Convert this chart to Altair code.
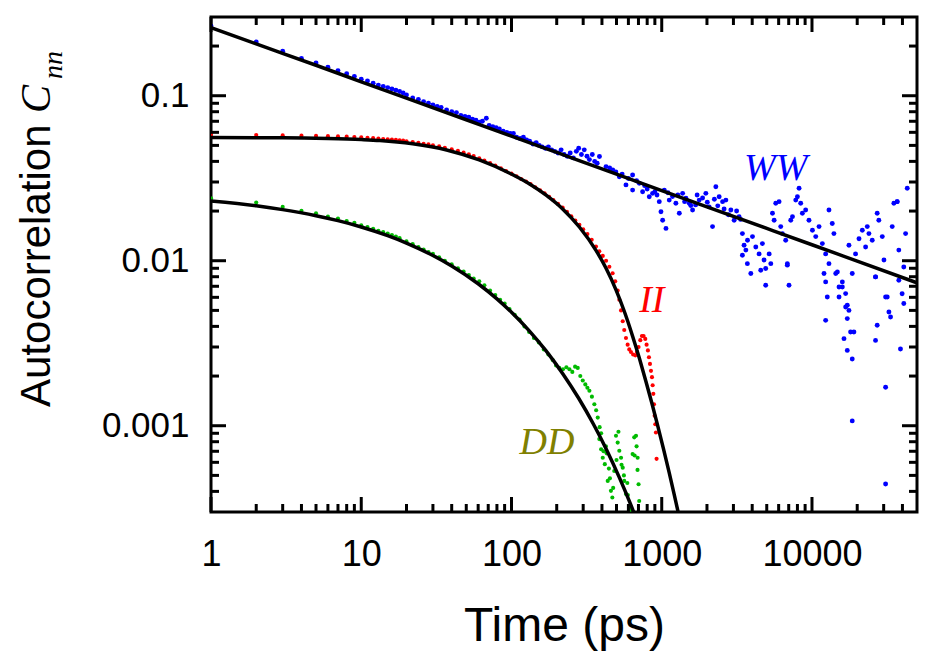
import altair as alt
import pandas as pd

SANS = "Liberation Sans"
SERIF = "Liberation Serif"

# ---------------- data ----------------
WW_EARLY = [(1, 0.265), (2, 0.212), (3, 0.186), (4, 0.168), (5, 0.158), (6, 0.149), (7, 0.142),
            (8, 0.136), (9, 0.131), (10, 0.126), (11, 0.123), (12, 0.119), (13, 0.116), (14, 0.114),
            (15, 0.112), (16, 0.110), (17, 0.108), (18, 0.106), (19, 0.104), (20, 0.101)]
WW_MID = [(22, 0.097), (24, 0.095), (26, 0.092), (28, 0.090), (30, 0.088), (32, 0.086), (34, 0.085),
          (37, 0.082), (40, 0.080), (43, 0.079), (46, 0.076), (49, 0.075), (52, 0.074), (55, 0.072),
          (58, 0.071), (61, 0.069), (64, 0.070), (68, 0.073), (71, 0.066), (75, 0.065), (79, 0.064),
          (83, 0.063), (88, 0.061), (93, 0.060), (98, 0.059), (103, 0.059), (108, 0.056), (114, 0.055),
          (120, 0.056), (126, 0.054), (132, 0.053), (139, 0.051), (146, 0.052), (153, 0.050), (160, 0.049),
          (168, 0.048), (176, 0.049), (185, 0.047), (194, 0.046), (204, 0.045), (214, 0.047), (224, 0.044),
          (235, 0.043), (246, 0.045), (258, 0.042), (270, 0.046), (280, 0.048), (292, 0.044), (305, 0.047),
          (318, 0.043), (330, 0.041), (345, 0.044), (358, 0.040), (372, 0.039)]
WW_NEARLINE = [(450, 0.0365), (495, 0.0345), (545, 0.0335), (600, 0.0315), (680, 0.0305), (770, 0.0285),
               (800, 0.0272), (900, 0.0262), (930, 0.0250), (1040, 0.0268), (1100, 0.0258), (1180, 0.0245),
               (1280, 0.0250), (1420, 0.0228), (1560, 0.0216), (1680, 0.0218), (1720, 0.0250), (1870, 0.0240),
               (2010, 0.0226), (2240, 0.0236), (2360, 0.0215), (2600, 0.0206), (2780, 0.0190), (3150, 0.0200),
               (3350, 0.0178)]
WW_TAIL = [(385, 0.0428), (426, 0.0372), (472, 0.0355), (522, 0.0323), (578, 0.0288), (640, 0.0331),
           (640, 0.0268), (709, 0.0295), (746, 0.0262), (826, 0.0244), (869, 0.0256), (963, 0.0228),
           (988, 0.0198), (1014, 0.0176), (1067, 0.0157), (1122, 0.0233), (1242, 0.0223), (1309, 0.0194),
           (1377, 0.0256), (1449, 0.0239), (1525, 0.0223), (1604, 0.0203), (1776, 0.0233), (1966, 0.0256),
           (2069, 0.0212), (2178, 0.0161), (2291, 0.0281), (2411, 0.0244), (2541, 0.0228), (2673, 0.0233),
           (2884, 0.0203), (3034, 0.0176), (3273, 0.0185), (3443, 0.0146), (3532, 0.0124), (3631, 0.0116),
           (3724, 0.0133), (3917, 0.00836), (4018, 0.0140), (4227, 0.0121), (4446, 0.0110), (4677, 0.0127),
           (4797, 0.0101), (4920, 0.0071), (5188, 0.0110), (5321, 0.0096), (5458, 0.0194), (5598, 0.0176),
           (5741, 0.0223), (6039, 0.0228), (6194, 0.0161), (6353, 0.0146), (6683, 0.0133), (6854, 0.0096),
           (7031, 0.0071), (7221, 0.0176), (7413, 0.0185), (7798, 0.0233), (7998, 0.0244), (8204, 0.0275),
           (8414, 0.0223), (8630, 0.0194), (9078, 0.0203), (9550, 0.0176), (10069, 0.0153), (10593, 0.0140),
           (11143, 0.0161), (11722, 0.0127), (12331, 0.0110), (12972, 0.0096), (12972, 0.0203), (13646, 0.0168),
           (13996, 0.0146), (14388, 0.00836), (15136, 0.00603), (15922, 0.00693), (16749, 0.00524),
           (17620, 0.0124), (18535, 0.00836), (19498, 0.0110), (20559, 0.0136), (21627, 0.0153),
           (22751, 0.0121), (23335, 0.0161), (23933, 0.0146), (25177, 0.0133), (26485, 0.00798),
           (27164, 0.0194), (27861, 0.0176), (29376, 0.0140), (30130, 0.0101), (30903, 0.00603),
           (34198, 0.0161), (35075, 0.0223), (36897, 0.0228), (37844, 0.0116), (39811, 0.00631),
           (41976, 0.0146), (43053, 0.0275)]
WW_LOW = [(3443, 0.0108), (3715, 0.0096), (4560, 0.00875), (4920, 0.00897), (6854, 0.0094),
          (12023, 0.00836), (12331, 0.00744), (12647, 0.00603), (12331, 0.00435), (14757, 0.00855),
          (15136, 0.00693), (15922, 0.00744), (16749, 0.00632), (17179, 0.00537), (17179, 0.00446),
          (17620, 0.0050), (18072, 0.0037), (19011, 0.0037), (16331, 0.00337), (17179, 0.00286),
          (18535, 0.00254), (18535, 0.00107), (26485, 0.00798), (27164, 0.00406), (26485, 0.00329),
          (31696, 0.00603), (32509, 0.00489), (33343, 0.00456), (30903, 0.00171), (30903, 0.000443),
          (38815, 0.00292), (40832, 0.0055), (37844, 0.00762), (40832, 0.00916), (36897, 0.0228)]

II_DATA = [(1, 0.0580), (2, 0.0578), (3, 0.0575), (4, 0.0573), (5, 0.0571), (6, 0.0569), (7, 0.0567),
           (8, 0.0565), (9, 0.0562), (10, 0.0559), (11, 0.0556), (12, 0.0553), (13, 0.0550), (14, 0.0547),
           (15, 0.0545), (16, 0.0542), (17, 0.0540), (18, 0.0537), (19, 0.0534), (20, 0.0530), (22, 0.0524),
           (24, 0.0518), (26, 0.0512), (28, 0.0507), (30, 0.0501), (33, 0.0493), (36, 0.0484), (40, 0.0474),
           (44, 0.0463), (48, 0.0452), (52, 0.0441), (56, 0.0431), (61, 0.0418), (66, 0.0405), (72, 0.0391),
           (78, 0.0378), (85, 0.0363), (92, 0.0350), (100, 0.0337), (108, 0.0325), (116, 0.0313),
           (125, 0.0302), (134, 0.0291), (144, 0.0279), (155, 0.0267), (166, 0.0256), (178, 0.0244),
           (190, 0.0233), (204, 0.0221), (219, 0.0210), (234, 0.0198), (250, 0.0186), (266, 0.0175),
           (283, 0.0165), (300, 0.0155), (320, 0.0145), (342, 0.0134), (365, 0.0122), (384, 0.0114),
           (405, 0.0107), (426, 0.0100), (448, 0.0092), (471, 0.0084), (490, 0.0075), (509, 0.0066),
           (522, 0.0058), (536, 0.0050), (550, 0.0043), (563, 0.0038), (578, 0.0034), (593, 0.0031),
           (608, 0.0029), (624, 0.0028), (645, 0.0027), (667, 0.00267), (684, 0.0028), (701, 0.0030),
           (720, 0.0033), (738, 0.0035), (757, 0.0035), (777, 0.00336), (793, 0.0031), (809, 0.00286),
           (822, 0.0026), (835, 0.00237), (848, 0.00215), (861, 0.00197), (870, 0.00176), (879, 0.00156),
           (888, 0.00135), (897, 0.00115), (906, 0.00102), (915, 0.00091), (924, 0.00063)]

DD_DATA = [(1, 0.0239), (2, 0.0225), (3, 0.0212), (4, 0.0201), (5, 0.0194), (6, 0.0185), (7, 0.0180),
           (8, 0.0174), (9, 0.0170), (10, 0.0164), (11, 0.0160), (12, 0.0156), (13, 0.0152), (14, 0.0149),
           (15, 0.0146), (16, 0.0143), (17, 0.0140), (18, 0.0137), (20, 0.0131), (22, 0.0126), (24, 0.0121),
           (26, 0.0117), (28, 0.0113), (30, 0.0110), (33, 0.0105), (36, 0.0100), (40, 0.0095), (44, 0.0090),
           (48, 0.0086), (52, 0.0082), (56, 0.0078), (61, 0.0075), (66, 0.0071), (72, 0.0066), (78, 0.0062),
           (84, 0.0058), (90, 0.0055), (97, 0.0051), (105, 0.0047), (113, 0.0044), (122, 0.0040),
           (131, 0.0037), (141, 0.0034), (152, 0.0032), (164, 0.0029), (176, 0.0027), (188, 0.0025),
           (198, 0.00232), (208, 0.00224), (220, 0.0022), (232, 0.00226), (243, 0.0022), (254, 0.00212),
           (265, 0.00228), (276, 0.00224), (287, 0.0020), (298, 0.00188), (310, 0.00178), (320, 0.0017),
           (330, 0.00163), (343, 0.0015), (356, 0.00135), (366, 0.00124), (375, 0.00112), (386, 0.00098),
           (384, 0.00083), (395, 0.00072), (405, 0.00064), (418, 0.000585), (425, 0.00075), (437, 0.000463),
           (445, 0.00055), (459, 0.000403), (469, 0.000367), (483, 0.000532), (496, 0.00087), (509, 0.00079),
           (515, 0.00092), (522, 0.000705), (536, 0.00064), (550, 0.000557), (563, 0.000463), (578, 0.000385),
           (590, 0.00045), (608, 0.000327), (640, 0.000673), (656, 0.00085), (674, 0.00087), (680, 0.00075),
           (691, 0.00064), (701, 0.000442), (708, 0.00035), (395, 0.0009), (410, 0.0007), (430, 0.00068),
           (452, 0.00048), (475, 0.00042), (500, 0.00062), (540, 0.00058), (560, 0.00050), (595, 0.00038),
           (620, 0.00031), (660, 0.00066), (690, 0.00054)]

FIT_WW = [(1, 0.259), (2, 0.206), (5, 0.153), (10, 0.1215), (20, 0.0967), (50, 0.0715), (100, 0.0569),
          (200, 0.0453), (500, 0.0335), (1000, 0.0266), (2000, 0.0212), (5000, 0.0157), (10000, 0.0125),
          (20000, 0.00993), (50000, 0.00735)]
FIT_II = [(1, 0.0558), (3, 0.0556), (6, 0.0550), (10, 0.0542), (13.3, 0.0535), (22, 0.0511), (37, 0.0469),
          (61, 0.0408), (102, 0.0332), (132, 0.0292), (170, 0.02496), (219, 0.0206), (283, 0.01601),
          (365, 0.01156), (426, 0.0090), (496, 0.00666), (560, 0.00501), (640, 0.00349), (710, 0.00256),
          (785, 0.001855), (860, 0.001367), (938, 0.001008), (1030, 0.000717), (1122, 0.000518),
          (1210, 0.000384), (1306, 0.000281), (1350, 0.000244)]
FIT_DD = [(1, 0.0230), (2, 0.02151), (3, 0.0204), (5, 0.01875), (7, 0.01749), (10, 0.01602), (15, 0.01419),
          (20, 0.0128), (30, 0.01076), (40, 0.00929), (60, 0.00725), (80, 0.00587), (100, 0.00487),
          (130, 0.0038), (170, 0.00284), (220, 0.00206), (280, 0.001467), (350, 0.001028), (430, 0.000713),
          (520, 0.00049), (620, 0.000335), (700, 0.000252)]

X_LABELS = [1, 10, 100, 1000, 10000]
Y_LABELS = [0.001, 0.01, 0.1]
X_MAJOR = [1, 10, 100, 1000, 10000]
X_MINOR = [2, 3, 4, 5, 6, 7, 8, 9, 20, 30, 40, 50, 60, 70, 80, 90, 200, 300, 400, 500, 600, 700, 800, 900,
           2000, 3000, 4000, 5000, 6000, 7000, 8000, 9000, 20000, 30000, 40000]
Y_MAJOR = [0.001, 0.01, 0.1]
Y_MINOR = [0.0004, 0.0005, 0.0006, 0.0007, 0.0008, 0.0009, 0.002, 0.003, 0.004, 0.005, 0.006, 0.007,
           0.008, 0.009, 0.02, 0.03, 0.04, 0.05, 0.06, 0.07, 0.08, 0.09, 0.2]

LABELS = [("WW", 3532, 0.0308, "#0000ff"), ("II", 708, 0.00489, "#ff0000"), ("DD", 113, 0.000673, "#808000")]

# ---------------- layout ----------------
W, H = 706, 495
X_SCALE = alt.Scale(type="log", domain=[1, 50000], nice=False)
Y_SCALE = alt.Scale(type="log", domain=[0.0003, 0.3], nice=False)
X_AXIS = alt.Axis(values=X_LABELS, format="d", labelFont=SANS, labelFontSize=36, labelColor="black",
                  labelPadding=25, labelFlush=False, labelOverlap=False, domain=False, ticks=False,
                  tickSize=0, grid=False, title="Time (ps)", titleFont=SANS, titleFontSize=48,
                  titleFontWeight="normal", titleColor="black", titleBaseline="alphabetic",
                  titleY=128, titleX=W / 2, titleAlign="center")
Y_AXIS = alt.Axis(values=Y_LABELS, format="~g", labelFont=SANS, labelFontSize=35, labelColor="black",
                  labelPadding=22, labelFlush=False, labelOverlap=False, domain=False, ticks=False,
                  tickSize=0, grid=False, title=None)
X = alt.X("t:Q", scale=X_SCALE, axis=X_AXIS)
Y = alt.Y("c:Q", scale=Y_SCALE, axis=Y_AXIS)


def frame(pairs):
    return pd.DataFrame(pairs, columns=["t", "c"])


def scatter(pairs, color, size):
    return alt.Chart(frame(pairs)).mark_circle(color=color, size=size, opacity=1, clip=True).encode(x=X, y=Y)


def fit(pairs):
    return alt.Chart(frame(pairs)).mark_line(color="black", strokeWidth=3.5, clip=True,
                                             interpolate="monotone").encode(x=X, y=Y)


def xticks(vals, length, top):
    df = pd.DataFrame({"t": vals})
    y0, y1 = (0, length) if top else (H, H - length)
    return alt.Chart(df).mark_rule(color="black", strokeWidth=3).encode(
        x=X, y=alt.value(y0), y2=alt.value(y1))


def yticks(vals, length, right):
    df = pd.DataFrame({"c": vals})
    x0, x1 = (W, W - length) if right else (0, length)
    return alt.Chart(df).mark_rule(color="black", strokeWidth=3).encode(
        y=Y, x=alt.value(x0), x2=alt.value(x1))


layers = [
    scatter(WW_EARLY + WW_MID + WW_NEARLINE + WW_TAIL + WW_LOW, "#0000ff", 24),
    scatter(II_DATA, "#ff0000", 17),
    scatter(DD_DATA, "#00bb00", 17),
    fit(FIT_WW), fit(FIT_II), fit(FIT_DD),
    xticks(X_MAJOR, 15, False), xticks(X_MINOR, 8, False),
    xticks(X_MAJOR, 15, True), xticks(X_MINOR, 8, True),
    yticks(Y_MAJOR, 15, False), yticks(Y_MINOR, 8, False),
    yticks(Y_MAJOR, 15, True), yticks(Y_MINOR, 8, True),
]

for txt, t, c, col in LABELS:
    df = pd.DataFrame({"t": [t], "c": [c], "s": [txt]})
    layers.append(alt.Chart(df).mark_text(font=SERIF, fontStyle="italic", fontSize=38, color=col,
                                          align="left", baseline="alphabetic").encode(x=X, y=Y, text="s:N"))

# y-axis title built from three pieces (sans text + italic serif C with subscript nn)
for txt, font, style, size, px, py in [("Autocorrelation", SANS, "normal", 42, -161, 390),
                                        ("C", SERIF, "italic", 42, -161, 96),
                                        ("nn", SERIF, "italic", 28, -149, 62)]:
    df = pd.DataFrame({"s": [txt]})
    layers.append(alt.Chart(df).mark_text(font=font, fontStyle=style, fontSize=size, color="black",
                                          angle=270, align="left", baseline="alphabetic").encode(
        x=alt.value(px), y=alt.value(py), text="s:N"))

chart = alt.layer(*layers).properties(
    width=W, height=H,
    padding={"left": 203, "top": 9, "right": 11, "bottom": 140},
    autosize=alt.AutoSizeParams(type="none"),
).configure_view(stroke="black", strokeWidth=3)

chart.save("out.html", embed_options={"renderer": "svg", "actions": False})
